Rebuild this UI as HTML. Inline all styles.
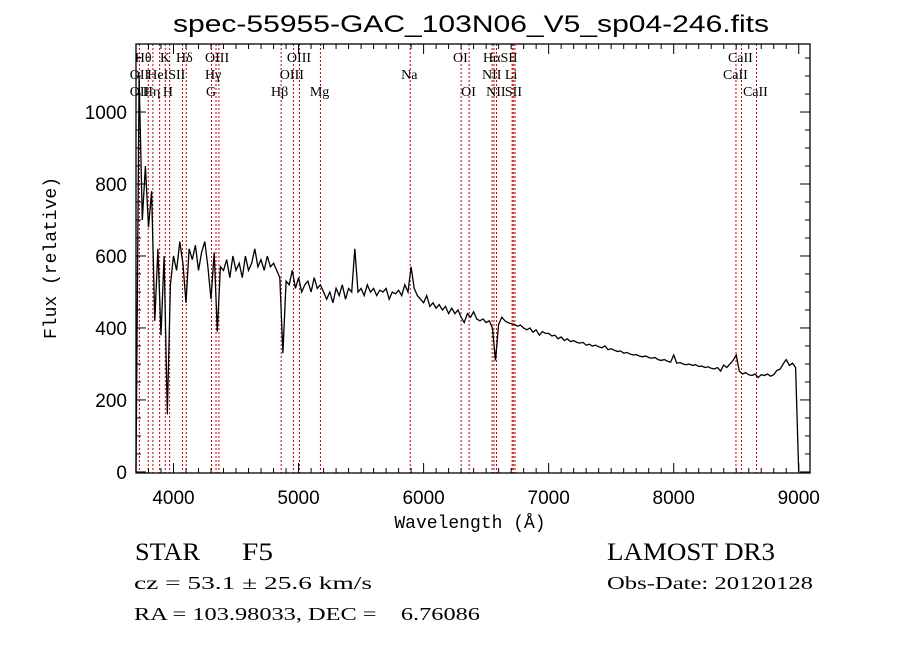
<!DOCTYPE html>
<html><head><meta charset="utf-8"><style>
html,body{margin:0;padding:0;background:#fff;}
svg{display:block;}
.t{font-family:"Liberation Sans",sans-serif;}
.s{font-family:"Liberation Serif",serif;}
.m{font-family:"Liberation Mono",monospace;}
</style></head><body>
<svg id="chart" width="900" height="649" viewBox="0 0 900 649">
<rect width="900" height="649" fill="#fff"/>
<text class="t" x="471" y="32" font-size="24" text-anchor="middle" textLength="596" lengthAdjust="spacingAndGlyphs">spec-55955-GAC_103N06_V5_sp04-246.fits</text>
<g id="lines"></g>
<g id="labels"></g>
<path id="spec" fill="none" stroke="#000" stroke-width="1.3"/>
<g id="axes"></g>
<text class="m" x="470" y="528" font-size="18" text-anchor="middle">Wavelength (Å)</text>
<text class="m" x="0" y="0" font-size="18" text-anchor="middle" transform="translate(56,258) rotate(-90)">Flux (relative)</text>
<text class="s" x="135" y="560" font-size="25" textLength="65" lengthAdjust="spacingAndGlyphs">STAR</text>
<text class="s" x="242" y="560" font-size="25" textLength="31" lengthAdjust="spacingAndGlyphs">F5</text>
<text class="s" x="607" y="560" font-size="25" textLength="168" lengthAdjust="spacingAndGlyphs">LAMOST DR3</text>
<text class="s" x="134" y="589" font-size="18" textLength="238" lengthAdjust="spacingAndGlyphs">cz = 53.1 ± 25.6 km/s</text>
<text class="s" x="607" y="589" font-size="18" textLength="206" lengthAdjust="spacingAndGlyphs">Obs-Date: 20120128</text>
<text class="s" x="134" y="620" font-size="18" xml:space="preserve" textLength="346" lengthAdjust="spacingAndGlyphs">RA = 103.98033, DEC =    6.76086</text>
</svg>
<script>
const wlStart = 3700;
const wlStep = 25;
const flux = [0,1100,700,850,680,780,420,620,380,600,160,520,
600,560,640,580,470,620,590,630,560,610,640,570,480,610,390,570,560,590,540,600,560,580,540,600,560,580,620,570,
590,560,600,570,580,560,540,330,530,520,560,510,540,500,520,530,500,540,510,520,500,480,500,470,510,490,520,480,
510,500,620,500,510,490,520,500,510,490,505,500,510,480,500,495,505,490,520,500,570,510,490,480,
470,490,460,470,455,465,450,460,440,455,440,450,430,415,440,430,445,425,420,425,415,420,400,310,410,430,420,415,
412,410,405,408,400,395,400,388,395,380,390,385,385,378,380,370,375,365,370,362,365,360,358,360,352,355,350,352,
348,345,350,340,342,338,335,336,330,332,328,325,326,322,320,322,318,316,318,312,310,312,308,305,
325,302,304,300,298,300,296,298,293,294,290,292,288,286,290,280,297,290,300,310,325,280,272,276,
270,268,272,262,270,268,272,266,270,282,285,300,312,296,302,290,0];
const lineWl = [3727,3798,3835,3889,3934,3969,4072,4102,4304,4340,4363,4861,4959,5007,5175,5893,6300,6364,6548,6563,6583,6708,6717,6731,8498,8542,8662];
const labelText = ["Hθ","K","Hδ","OIII","OIII","OI","HαSII","CaII","OII","HeISII","Hγ","OIII","Na","NII","Li","CaII","OII","Hη","H","G","Hβ","Mg","OI","NII","SII","CaII"];
const labelRow = [0,0,0,0,0,0,0,0,1,1,1,1,1,1,1,1,2,2,2,2,2,2,2,2,2,2];
const labelWl = [3690,3892,4020,4252,4907,6235,6475,8434,3650,3790,4252,4850,5820,6467,6650,8394,3650,3755,3915,4260,4780,5090,6300,6500,6650,8554];
const xTicks = [4000,5000,6000,7000,8000,9000];
const yTicks = [0,200,400,600,800,1000];

const L=136,R=810,T=44,B=473;
const xMin=3700,xMax=9090,yMin=-3,yMax=1189;
const X=w=>L+(w-xMin)/(xMax-xMin)*(R-L);
const Y=f=>B-(f-yMin)/(yMax-yMin)*(B-T);
const NS="http://www.w3.org/2000/svg";
function mk(tag,attrs,parent){const e=document.createElementNS(NS,tag);for(const k in attrs)e.setAttribute(k,attrs[k]);parent.appendChild(e);return e;}

const gl=document.getElementById('lines');
lineWl.forEach(w=>{
  const l=mk('line',{x1:X(w),x2:X(w),y1:T,y2:B,stroke:'#c00000','stroke-width':1,'stroke-dasharray':'2,2'},gl);
  
  
});
const glab=document.getElementById('labels');
labelText.forEach((s,i)=>{
  const t=mk('text',{x:X(labelWl[i]),y:62+labelRow[i]*17,'font-size':14,'class':'s'},glab);
  t.textContent=s;
  
  
});

let d='';
flux.forEach((f,i)=>{const w=wlStart+i*wlStep;d+=(i?'L':'M')+X(w).toFixed(1)+','+Y(f).toFixed(1);});
document.getElementById('spec').setAttribute('d',d);

const ga=document.getElementById('axes');
const box=mk('rect',{x:L,y:T,width:R-L,height:B-T,fill:'none',stroke:'#000','stroke-width':1.3},ga);


for(let w=3800;w<=9000;w+=100){
  const major=w%1000===0,len=major?10:5;
  mk('line',{x1:X(w),x2:X(w),y1:B,y2:B-len,stroke:'#000'},ga);
  mk('line',{x1:X(w),x2:X(w),y1:T,y2:T+len,stroke:'#000'},ga);
}
for(let f=0;f<=1150;f+=50){
  const major=f%200===0,len=major?10:5;
  mk('line',{x1:L,x2:L+len,y1:Y(f),y2:Y(f),stroke:'#000'},ga);
  mk('line',{x1:R,x2:R-len,y1:Y(f),y2:Y(f),stroke:'#000'},ga);
}
xTicks.forEach(w=>{
  const t=mk('text',{x:X(w),y:504,'font-size':19,'text-anchor':'middle','class':'t'},ga);
  t.textContent=w;
  
  
});
yTicks.forEach(f=>{
  const t=mk('text',{x:127,y:Y(f)+7,'font-size':19,'text-anchor':'end','class':'t'},ga);
  t.textContent=f;
  
  
});
</script>
</body></html>
